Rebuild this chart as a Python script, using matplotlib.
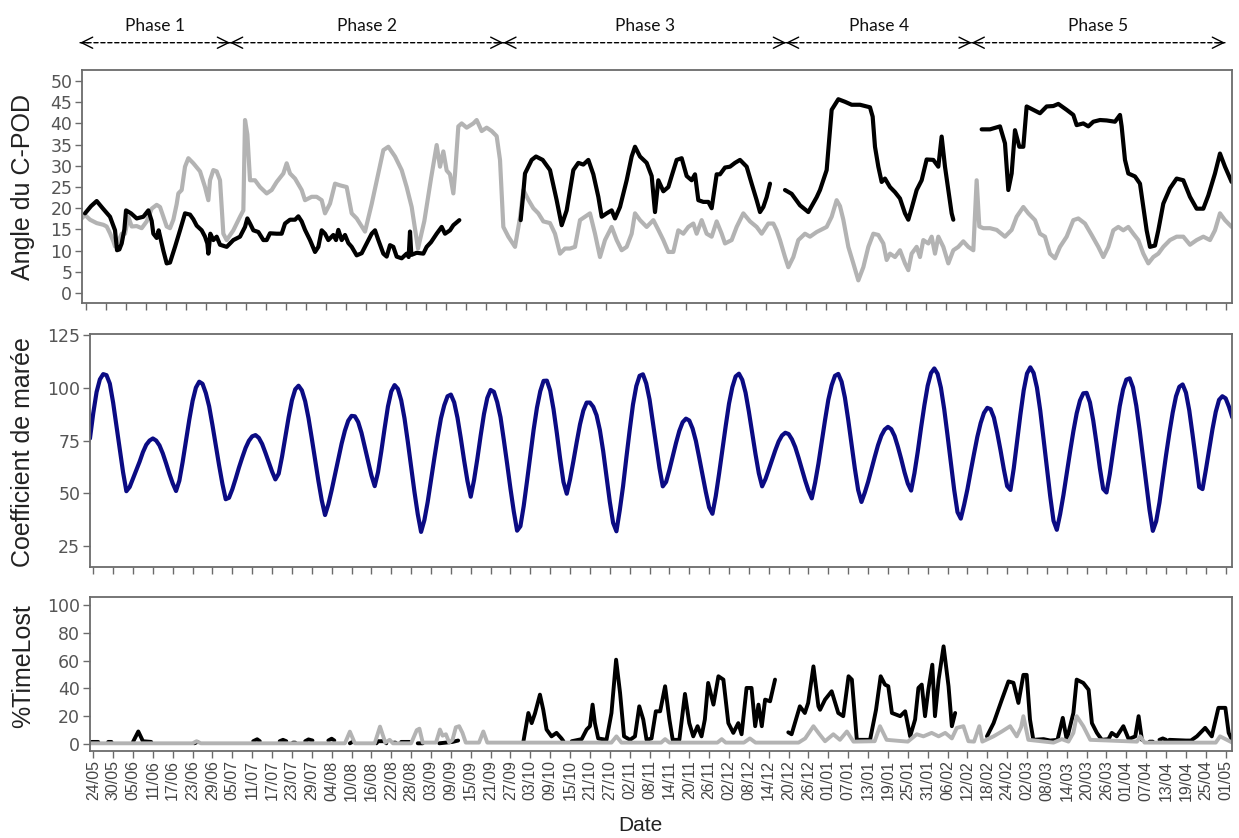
import numpy as np
import matplotlib
matplotlib.use('Agg')
import matplotlib.pyplot as plt
import matplotlib.dates as mdates

nan = np.nan
START = mdates.date2num(np.datetime64('2016-05-24'))

# ---- panel 1 : angle du C-POD (days counted from 24/05) ----
ang_black_days = [-0.3, 1.5, 3.2, 5.0, 7.2, 8.7, 9.3, 10.0, 10.7, 11.5, 12.0, 13.5, 15.2, 17.2, 18.7, 19.7,
                  20.2, 21.2, 21.8, 23.2, 24.2, 25.2, 26.7, 28.2, 29.7, 31.2, 32.2, 33.2, 34.7, 35.7, 36.4,
                  36.7, 37.3, 38.2, 39.2, 40.2, 42.2, 44.2, 46.2, 47.7, 48.4, 49.2, 50.2, 51.7, 53.2, 54.2,
                  55.2, 57.2, 58.7, 59.7, 61.2, 62.7, 63.7, 64.7, 65.7, 67.2, 68.7, 69.7, 70.7, 71.7, 72.7,
                  74.2, 75.0, 75.7, 76.7, 77.7, 78.7, 79.7, 81.2, 82.7, 84.2, 85.7, 86.7, 87.7, 89.2, 90.2,
                  91.2, 92.2, 93.2, 94.7, 96.2, 96.8, 97.2, 97.6, 99.2, 101.2, 102.2, 103.5, 105.2, 106.7,
                  107.7, 109.2, 110.2, 112.0, 121.0,
                  130.4, 131.0, 131.7, 133.7, 135.0, 137.0, 139.2, 141.2, 142.7, 144.2, 146.2, 147.7, 149.2,
                  150.7, 152.2, 153.7, 154.7, 156.2, 157.7, 158.7, 160.2, 162.2, 163.7, 164.7, 166.2, 168.2,
                  169.7, 170.7, 171.7, 173.2, 174.7, 175.7, 177.2, 178.7, 180.2, 181.7, 182.7, 183.7, 185.2,
                  186.7, 187.7, 189.2, 190.2, 191.7, 193.2, 194.7, 196.2, 198.2, 199.7, 201.2, 202.2, 203.2,
                  204.2, 205.2, 207.0,
                  209.7, 211.7, 214.2, 216.7, 219.2, 220.2, 222.2, 223.7, 225.7, 227.7, 229.7, 232.2, 235.2,
                  236.0, 236.7, 237.7, 238.7, 239.7, 241.2, 242.7, 244.2, 245.7, 246.7, 247.7, 249.2, 250.7,
                  252.2, 254.2, 255.7, 256.7, 257.7, 258.7, 259.7, 260.2, 264.0,
                  268.7, 271.2, 274.2, 275.7, 276.7, 277.7, 278.7, 280.0, 281.2, 282.2, 284.2, 286.2, 288.2,
                  290.2, 291.7, 294.2, 296.2, 297.2, 299.2, 300.7, 302.2, 304.2, 306.2, 308.7, 310.2, 310.7,
                  311.7, 312.7, 314.7, 316.2, 317.2, 318.2, 319.2, 320.7, 321.7, 323.2, 325.2, 327.2, 329.2,
                  331.2, 333.2, 335.2, 336.7, 338.7, 340.2, 341.7, 343.7]
ang_black_vals = [18.8, 20.5, 21.7, 20.0, 18.0, 14.8, 10.1, 10.3, 11.7, 15.0, 19.5, 18.8, 17.6, 18.0, 19.5, 17.0,
                  14.0, 13.0, 14.8, 10.0, 7.0, 7.2, 10.9, 14.8, 18.8, 18.5, 17.4, 15.9, 14.8, 13.3, 11.7,
                  9.3, 14.0, 12.5, 13.3, 11.4, 10.9, 12.5, 13.3, 15.6, 17.6, 16.4, 14.8, 14.4, 12.5, 12.5,
                  14.1, 14.0, 14.0, 16.4, 17.3, 17.3, 18.1, 16.9, 14.9, 12.5, 9.7, 10.9, 14.8, 14.0, 12.5,
                  13.7, 12.5, 14.9, 12.5, 13.7, 11.8, 10.9, 8.9, 9.4, 11.7, 14.0, 14.8, 12.5, 9.3, 8.6,
                  11.3, 10.9, 8.6, 8.2, 9.3, 8.5, 14.5, 9.0, 9.5, 9.3, 10.9, 12.0, 14.0, 15.6,
                  14.0, 14.8, 16.0, 17.2, nan,
                  17.2, 22.0, 28.2, 31.4, 32.2, 31.4, 29.0, 21.9, 16.0, 19.5, 29.0, 30.7, 30.3,
                  31.4, 28.0, 22.7, 18.0, 18.8, 19.5, 17.6, 20.3, 26.6, 32.2, 34.5, 32.2, 30.7,
                  27.6, 19.1, 26.6, 24.0, 25.0, 27.6, 31.4, 31.8, 27.6, 26.6, 28.0, 21.9, 21.5,
                  21.5, 20.0, 28.0, 28.0, 29.6, 29.8, 30.7, 31.4, 29.8, 25.8, 21.9, 19.1, 20.3,
                  22.6, 25.8, nan,
                  24.3, 23.4, 20.7, 19.1, 22.6, 24.3, 29.0, 43.2, 45.7, 45.1, 44.4, 44.4, 43.8,
                  41.6, 34.5, 29.8, 26.2, 27.0, 25.0, 23.8, 22.3, 18.8, 17.3, 20.0, 24.3, 26.6,
                  31.5, 31.4, 29.8, 36.9, 29.8, 24.3, 18.8, 17.3, nan,
                  38.6, 38.6, 39.3, 35.3, 24.3, 28.2, 38.4, 34.5, 34.5, 44.0, 43.2, 42.4, 44.0,
                  44.1, 44.6, 43.2, 42.0, 39.6, 40.0, 39.3, 40.4, 40.8, 40.7, 40.4, 42.0, 39.3,
                  31.4, 28.2, 27.5, 25.8, 20.3, 14.8, 10.9, 11.2, 14.8, 21.1, 24.7, 27.0, 26.6,
                  22.7, 19.9, 19.9, 23.0, 28.2, 32.9, 29.8, 26.2]

ang_grey_days = [-1.3, -0.3, 1.2, 3.2, 5.2, 6.2, 7.2, 8.2, 8.7, 9.7, 10.7, 11.7, 12.7, 13.7, 15.2, 16.7,
                 18.2, 19.7, 21.2, 22.2, 23.2, 24.2, 25.2, 26.2, 27.2, 27.7, 28.7, 29.7, 30.7, 32.2, 34.2,
                 35.7, 36.7, 37.2, 38.2, 39.2, 40.2, 41.2, 42.2, 44.2, 46.2, 47.2, 47.7, 48.4, 49.2, 50.7,
                 52.2, 54.2, 55.7, 57.2, 59.2, 60.2, 61.2, 62.7, 64.7, 65.7, 67.7, 69.2, 70.7, 71.7, 73.2,
                 74.7, 76.2, 78.2, 79.7, 81.2, 83.7, 85.7, 87.7, 89.2, 90.7, 92.7, 94.7, 96.2, 97.7, 99.6,
                 101.5, 103.5, 105.2, 106.2, 107.2, 108.2, 109.2, 110.2, 110.7, 111.7, 112.7, 114.2, 116.2,
                 117.2, 118.7, 120.2, 121.7, 123.2, 124.2, 125.2, 126.7, 128.7, 130.2, 131.2, 132.7, 134.2,
                 135.7, 137.2, 139.2, 140.7, 142.2, 143.7, 145.2, 146.7, 148.2, 149.7, 151.2, 152.7, 154.2,
                 155.7, 157.7, 159.2, 160.7, 162.2, 163.7, 164.7, 166.2, 168.2, 170.2, 171.7, 173.2, 174.7,
                 176.2, 177.7, 179.2, 180.7, 182.2, 183.2, 184.7, 186.2, 187.7, 189.2, 190.7, 191.7, 193.7,
                 195.2, 197.2, 199.2, 201.2, 202.7, 204.7, 206.2, 207.2, 208.2, 209.7, 210.7, 212.2, 213.7,
                 215.7, 217.2, 219.2, 222.2, 223.7, 225.2, 226.2, 227.2, 228.7, 230.2, 231.7, 233.2, 234.7,
                 236.2, 237.7, 239.2, 240.2, 241.2, 242.7, 244.2, 245.7, 246.7, 247.7, 249.2, 250.2, 251.2,
                 252.7, 253.7, 254.7, 255.7, 257.2, 258.7, 260.2, 261.7, 263.2, 264.7, 266.2, 267.2, 268.0,
                 269.2, 271.2, 273.2, 275.7, 277.7, 279.2, 281.2, 282.7, 284.7, 286.2, 287.7, 289.2, 290.7,
                 292.2, 294.2, 296.2, 297.7, 299.7, 301.7, 303.7, 305.2, 306.7, 308.2, 309.7, 311.2, 312.7,
                 314.2, 315.7, 317.2, 318.7, 320.2, 321.7, 323.2, 325.2, 327.2, 329.2, 331.2, 333.2, 335.2,
                 337.2, 338.7, 340.2, 341.7, 343.7]
ang_grey_vals = [17.6, 18.4, 17.3, 16.5, 16.1, 15.7, 14.1, 12.2, 11.0, 12.2, 14.0, 14.0, 18.0, 15.7, 15.8, 15.3,
                 16.9, 19.9, 20.8, 20.3, 18.0, 15.7, 15.3, 17.3, 21.0, 23.5, 24.3, 29.8, 31.8, 30.6, 28.7,
                 25.0, 21.9, 26.6, 29.0, 28.7, 26.6, 14.0, 12.5, 14.8, 18.0, 19.5, 40.8, 37.4, 26.6, 26.6,
                 25.0, 23.5, 24.3, 26.2, 28.2, 30.6, 28.2, 27.0, 24.3, 21.9, 22.7, 22.7, 21.9, 18.8, 21.1,
                 25.8, 25.4, 25.0, 18.8, 17.6, 14.5, 21.0, 28.2, 33.7, 34.5, 32.2, 29.0, 25.0, 20.3, 10.5,
                 17.0, 27.0, 34.9, 29.8, 33.4, 28.9, 28.0, 23.5, 28.0, 39.3, 40.0, 39.0, 40.0,
                 40.8, 38.2, 39.0, 38.2, 37.0, 31.4, 15.6, 13.3, 10.9, 17.8, 24.3, 22.0, 20.0,
                 18.8, 16.9, 16.5, 14.0, 9.3, 10.5, 10.5, 10.9, 17.2, 18.0, 18.8, 14.0, 8.5,
                 12.5, 15.6, 12.5, 10.1, 10.9, 14.0, 18.8, 17.2, 15.6, 17.2, 14.9, 12.5, 9.7,
                 9.7, 14.8, 14.0, 15.6, 16.4, 14.0, 17.2, 14.0, 13.3, 16.9, 14.0, 11.7, 12.5,
                 15.6, 18.8, 16.9, 15.6, 14.0, 16.4, 16.4, 14.8, 12.5, 8.5, 6.1, 8.5, 12.5,
                 14.0, 13.3, 14.4, 15.6, 18.0, 21.9, 20.5, 17.3, 10.9, 7.0, 3.0, 6.1, 10.9,
                 14.0, 13.7, 11.7, 7.8, 9.3, 8.5, 10.1, 7.0, 5.4, 9.3, 10.9, 8.5, 12.5,
                 11.7, 13.3, 9.3, 13.3, 10.9, 7.0, 10.1, 10.9, 12.2, 10.9, 10.1, 26.6, 15.7,
                 15.3, 15.3, 14.9, 13.3, 14.9, 18.0, 20.3, 18.8, 17.2, 14.0, 13.3, 9.3, 8.2,
                 10.9, 13.3, 17.2, 17.6, 16.4, 13.7, 10.9, 8.5, 10.9, 14.8, 15.6, 14.8, 15.6,
                 14.0, 12.5, 9.3, 7.0, 8.5, 9.3, 10.9, 12.5, 13.3, 13.3, 11.4, 12.5, 13.3,
                 12.5, 14.8, 18.8, 17.2, 15.6]

# ---- panel 2 : coefficient de maree, one value per day from day -1 ----
tide_vals = [76, 88, 98, 104, 106.5,                        # -1..3
             106, 102, 93, 82, 71, 60, 51,                  # 4..10
             53, 57, 61, 65, 69.5, 73, 75, 76,              # 11..18
             75, 72.7, 68.9, 64.2, 59.2, 54.7, 51.1,        # 19..25
             56, 64.9, 75, 84.9, 93.8, 100.1, 102.9,        # 26..32
             101.9, 97.5, 91.2, 82.3, 72.8, 63.3, 54.5, 47.2,  # 33..40
             47.9, 51.9, 56.9, 62.2, 67, 71.5, 74.9, 77,    # 41..48
             77.6, 76.3, 73.4, 69.2, 64.8, 60.3, 56.6,      # 49..55
             59.3, 67.3, 76.7, 86, 94.1, 99.3, 101,         # 56..62
             98.8, 93.6, 85.7, 76, 65.9, 55.8, 46.7, 39.7,  # 63..70
             44.8, 51.5, 58.8, 66.3, 73.5, 79.7, 84.4, 86.7,  # 71..78
             86.5, 83.8, 78.7, 72, 65.1, 58.5, 53.4,        # 79..85
             60, 70, 80.9, 91.2, 98.3, 101.3,               # 86..91
             99.5, 94.1, 85.5, 74.4, 62.6, 50.7, 40.1, 31.7,  # 92..99
             37.3, 45.9, 56.3, 66.6, 76.5, 85.5, 91.7, 96,  # 100..107
             96.8, 93.1, 85.8, 76.1, 65.6, 55.9, 48.4,      # 108..114
             56.3, 66.4, 77.4, 87.6, 95.2, 99,              # 115..120
             98.1, 93.2, 86, 75.2, 63.9, 52.2, 41.4, 32.3,  # 121..128
             34.4, 44, 55.8, 68.2, 80.2, 90.6, 98.4, 103.3,  # 129..136
             103.4, 98.7, 89.9, 78.6, 66.4, 55.4,           # 137..142
             49.8, 56.7, 65.2, 74.2, 82.7, 89.2, 93,        # 143..149
             93, 91, 87, 80, 70, 58, 46, 36, 32,            # 150..158
             41.9, 53.3, 66.9, 79.9, 92.1, 100.8, 105.7,    # 159..165
             106.4, 102.1, 94.5, 83.7, 72.8, 62, 53.3,      # 166..172
             55.4, 61.1, 67.6, 73.9, 79.6, 83.7, 85.4,      # 173..179
             84.5, 80.7, 74.8, 66.9, 58.7, 50.6, 43.3,      # 180..186
             40.3, 48.7, 59.3, 70.5, 81.9, 92.5, 100.3, 105.4,  # 187..194
             106.7, 103.8, 97.7, 88.7, 78.7, 68.6, 59.5,    # 195..201
             53.3, 56.7, 61.2, 65.9, 70.5, 74.6, 77.4, 78.7,  # 202..209
             78.1, 75.6, 71.9, 66.9, 61.5, 56.1, 51.3, 47.6,  # 210..217
             55, 64, 74.4, 84.7, 94.4, 101.2, 105.7,        # 218..224
             106.6, 102.9, 95.4, 84.9, 73.5, 61.8, 51.6,    # 225..231
             45.9, 50.3, 55.4, 61.4, 67.2, 72.8, 77.3, 80.2, 81.5,  # 232..240
             80.4, 77.2, 72.1, 66.3, 60, 54.6,              # 241..246
             51.3, 59.5, 69.7, 81.1, 91.7, 101, 107, 109.2,  # 247..254
             106.6, 100, 89.8, 77.4, 64.5, 51.7, 41.1,      # 255..261
             38, 44.5, 51.9, 60.5, 68.8, 76.8, 83.3, 88.1, 90.5,  # 262..270
             89.9, 85.9, 78.7, 70.4, 61.4, 53.4,            # 271..276
             51.6, 61.9, 74.6, 87.3, 98.8, 106.8, 109.7,    # 277..283
             107, 100.1, 89.2, 75.7, 62.3, 48.7, 37,        # 284..290
             32.7, 40.1, 49.2, 59.5, 69.7, 79.4, 87.9, 94, 97.4,  # 291..299
             97.6, 93.1, 84.5, 73.6, 62, 52.1,              # 300..305
             50.4, 59.1, 70, 80.8, 91.3, 99.2, 103.9,       # 306..312
             104.5, 100.2, 91.5, 80.1, 67.4, 54.3, 42.1, 32.2,  # 313..320
             36.7, 45.6, 56.9, 68.2, 78.7, 88.3, 96, 100.5,  # 321..328
             101.6, 97.7, 89.3, 77.8, 65.8, 53,             # 329..334
             52, 61, 70.7, 80.3, 88.6, 94.3,                # 335..340
             96, 95, 91, 86]                                # 341..344
tide_days = np.arange(len(tide_vals)) - 1

# ---- panel 3 : %TimeLost ----
tl_black_days = [-0.5, 1.5, 2.5, 4.5, 5.5, 6.5, 12.0, 13.6, 15.0, 17.5, 18.5, 30.5, 31.5, 32.5,
                 48.3, 49.5, 50.3, 51.0, 56.3, 57.3, 58.3, 59.0, 60.3, 61.0, 62.0, 64.0, 65.0, 66.2, 67.0,
                 71.0, 72.0, 72.8, 73.5, 77.5, 78.3, 79.0, 85.5, 86.0, 88.0, 88.5, 89.5, 90.8, 91.3, 92.0,
                 93.0, 95.5, 96.5, 98.0, 99.5, 100.5, 104.5, 106.5, 108.5, 110.2, 111.0,
                 129.9, 131.4, 132.4, 133.4, 134.9, 135.9, 136.9, 138.4, 139.9, 141.4, 142.0, 143.0,
                 144.5, 147.5, 149.0, 150.0, 150.8, 151.5, 152.5, 155.0, 156.5, 157.9, 159.1, 160.3, 162.1,
                 163.6, 164.9, 166.1, 167.1, 168.6, 169.9, 171.2, 172.7, 174.0, 175.0, 177.0, 178.7, 180.0,
                 181.2, 182.5, 183.7, 184.7, 185.7, 187.3, 188.8, 190.3, 191.8, 193.3, 194.8, 195.8, 197.3,
                 198.8, 199.9, 200.9, 201.9, 202.9, 204.4, 205.9, 207.0,
                 209.9, 210.9, 213.4, 214.9, 215.9, 217.5, 219.0, 219.5, 221.0, 223.0, 225.0, 226.5, 228.1,
                 229.1, 230.6, 234.6, 236.4, 237.8, 239.1, 240.1, 241.2, 243.7, 245.2, 246.7, 248.2, 249.2,
                 250.2, 251.2, 252.2, 253.4, 254.2, 255.3, 256.8, 258.3, 259.3, 260.3, 262.0,
                 269.9, 271.9, 274.4, 276.4, 277.9, 279.4, 280.9, 281.9, 282.9, 283.9, 287.0, 289.0, 291.2,
                 292.8, 294.0, 296.0, 297.0, 299.0, 300.6, 301.6, 303.1, 304.6, 306.6, 307.6, 309.1, 311.1,
                 312.7, 314.7, 315.7, 316.7, 317.5, 319.0, 320.0, 321.0, 322.0, 323.0, 324.0, 324.5,
                 325.0, 330.0, 331.5, 333.3, 335.8, 337.8, 339.8, 341.9, 342.9, 343.9]
tl_black_vals = [1.5, 1.5, nan, 1.5, 1.5, nan, 1.5, 9.0, 2.0, 1.5, nan, 0.5, 1.5, nan,
                 2.0, 3.4, 2.0, nan, 2.0, 3.0, 2.0, nan, 1.0, 1.0, nan, 2.0, 3.3, 2.5, nan,
                 2.5, 3.8, 2.5, nan, 0.5, 1.5, nan, 0.5, 2.0, 2.0, 0.5, nan, 1.0, 1.0, nan,
                 1.5, 1.5, nan, 0.5, 0.5, nan, 0.5, 1.0, 1.5, 2.5, nan,
                 1.7, 22.3, 15.0, 22.0, 35.5, 24.6, 10.4, 5.5, 8.0, 4.0, 2.0, nan,
                 2.0, 3.5, 10.4, 12.8, 28.3, 15.0, 4.0, 3.0, 22.3, 60.6, 36.7, 5.5, 3.0,
                 5.5, 27.1, 17.6, 3.0, 4.0, 23.5, 23.5, 41.5, 17.6, 3.0, 3.0, 36.0, 15.0,
                 5.5, 12.8, 5.5, 17.6, 43.9, 28.3, 48.7, 46.3, 15.0, 8.0, 15.0, 7.0, 40.3,
                 40.3, 12.8, 28.3, 12.8, 31.9, 30.7, 46.3, nan,
                 8.4, 7.0, 27.1, 22.3, 29.5, 55.8, 27.1, 24.6, 31.9, 37.9, 22.3, 20.0, 48.7,
                 46.3, 3.0, 3.0, 24.6, 48.7, 42.7, 41.5, 22.3, 20.0, 23.5, 5.5, 17.6, 40.3,
                 42.7, 20.0, 39.0, 57.0, 20.0, 46.3, 70.2, 41.5, 12.8, 22.3, nan,
                 5.5, 15.0, 31.9, 45.0, 44.0, 29.5, 49.7, 49.7, 17.6, 3.0, 3.5, 2.5, 3.0,
                 18.8, 3.0, 22.3, 46.3, 43.9, 39.0, 15.0, 8.0, 3.0, 3.5, 8.0, 5.5, 12.8,
                 3.5, 5.5, 20.0, 3.0, nan, 1.7, 1.7, nan, 3.0, 4.0, 3.0, nan,
                 3.0, 2.5, 2.5, 5.5, 11.6, 5.5, 26.0, 26.0, 8.0, 3.0]

tl_grey_days = [-1.0, 30.0, 31.2, 32.5, 76.0, 77.5, 79.0, 85.0, 86.6, 88.2, 89.5, 90.5, 96.0, 97.7, 98.5,
                99.5, 103.5, 104.7, 105.5, 106.5, 107.5, 108.5, 109.5, 110.5, 111.5, 112.5, 116.5, 117.8,
                119.0, 156.5, 158.0, 159.5, 171.5, 172.7, 174.0, 188.5, 189.8, 191.0, 196.5, 198.3, 200.0,
                213.0, 215.0, 217.5, 219.0, 221.0, 223.5, 225.5, 227.6, 229.6, 236.0, 237.6, 239.6, 246.0,
                248.7, 250.7, 253.2, 255.3, 257.3, 259.3, 260.8, 262.8, 264.3, 266.0, 267.6, 268.5, 271.9,
                274.4, 276.9, 278.9, 280.2, 280.9, 282.4, 290.0, 292.5, 294.5, 296.0, 297.0, 299.0, 301.1,
                315.2, 316.2, 317.5, 339.0, 340.3, 344.0]
tl_grey_vals = [0.5, 0.5, 2.0, 0.5, 0.5, 8.9, 0.5, 0.5, 12.5, 1.0, 3.0, 0.5, 0.5, 10.0, 11.0,
                1.0, 1.0, 10.4, 6.0, 7.0, 1.0, 3.0, 12.0, 12.8, 8.0, 1.0, 1.0, 9.0,
                1.0, 1.0, 5.5, 1.0, 1.0, 3.5, 1.0, 1.0, 3.5, 1.0, 1.0, 4.0, 1.0,
                1.0, 4.0, 12.8, 8.0, 2.0, 7.0, 3.0, 9.0, 1.7, 2.0, 12.8, 3.0, 1.7,
                7.0, 5.5, 8.0, 5.5, 8.0, 4.0, 11.6, 12.8, 2.0, 1.7, 12.8, 1.7, 5.5,
                9.0, 12.8, 5.5, 12.0, 20.0, 3.0, 1.0, 3.5, 1.7, 8.0, 20.0, 12.8, 3.0,
                1.7, 5.5, 1.0, 1.0, 5.5, 1.0]

phase_names = ['Phase 1', 'Phase 2', 'Phase 3', 'Phase 4', 'Phase 5']
phase_bounds = [-1.8, 43.2, 125.2, 210.0, 265.7, 341.7]

BLACK = '#000000'
GREY = '#b3b3b3'
NAVY = '#0b0b83'
FRAME = '#6b6b6b'


def x(days):
    return START + np.asarray(days, dtype=float)


fig = plt.figure(figsize=(12.39, 8.38), dpi=100)
ax1 = fig.add_axes([0.0662, 0.6381, 0.9284, 0.2784])
ax2 = fig.add_axes([0.0726, 0.3237, 0.9220, 0.2777])
ax3 = fig.add_axes([0.0726, 0.1042, 0.9220, 0.1831])

line_kw = dict(solid_capstyle='round', solid_joinstyle='round')
ax1.plot(x(ang_grey_days), ang_grey_vals, color=GREY, lw=3.0, **line_kw)
ax1.plot(x(ang_black_days), ang_black_vals, color=BLACK, lw=3.0, **line_kw)
ax2.plot(x(tide_days), tide_vals, color=NAVY, lw=3.0, **line_kw)
ax3.plot(x(tl_black_days), tl_black_vals, color=BLACK, lw=2.8, **line_kw)
ax3.plot(x(tl_grey_days), tl_grey_vals, color=GREY, lw=2.8, **line_kw)

ax1.set_xlim(START - 1.2, START + 343.9)
ax2.set_xlim(START - 1.0, START + 344.0)
ax3.set_xlim(START - 1.0, START + 344.0)
ax1.set_ylim(-2.4, 52.6)
ax2.set_ylim(15.2, 125.5)
ax3.set_ylim(-4.8, 105.5)
ax1.set_yticks(np.arange(0, 51, 5))
ax2.set_yticks([25, 50, 75, 100, 125])
ax3.set_yticks(np.arange(0, 101, 20))

xticks = x(np.arange(0, 343, 6))
for ax in (ax1, ax2, ax3):
    ax.set_xticks(xticks)
    ax.xaxis.set_major_formatter(mdates.DateFormatter('%d/%m'))
    for s in ax.spines.values():
        s.set_color(FRAME)
        s.set_linewidth(1.3)
    ax.tick_params(axis='both', direction='out', length=5, width=1, color=FRAME,
                   labelcolor='#555555', pad=2)
    ax.tick_params(axis='y', labelsize=12.5, labelfontfamily='DejaVu Sans')
ax1.tick_params(axis='x', labelbottom=False)
ax2.tick_params(axis='x', labelbottom=False)
ax3.tick_params(axis='x', labelsize=11.5, labelrotation=90, labelcolor='#444444',
                labelfontfamily='Liberation Sans')

lab_kw = dict(rotation=90, ha='center', va='center', fontsize=18, color='#222222', family='Liberation Sans')
fig.text(0.0182, 0.7763, 'Angle du C-POD', **lab_kw)
fig.text(0.0186, 0.460, 'Coefficient de marée', **lab_kw)
fig.text(0.0186, 0.2047, '%TimeLost', **lab_kw)
fig.text(0.5165, 0.0155, 'Date', ha='center', va='center', fontsize=15, color='#222222',
         family='Liberation Sans')

# phase arrows above the first panel
y_arrow = 1 - 42.7 / 838
y_text = 1 - 26 / 838
coords = ('data', 'figure fraction')
for i, name in enumerate(phase_names):
    a, b = x(phase_bounds[i]), x(phase_bounds[i + 1])
    ax1.annotate('', xy=(b, y_arrow), xytext=(a, y_arrow), xycoords=coords, textcoords=coords,
                 annotation_clip=False,
                 arrowprops=dict(arrowstyle='-', linestyle=(0, (3, 2)), lw=1, color='k',
                                 shrinkA=0, shrinkB=0))
    for tip, tail in ((a, a + 2.5), (b, b - 2.5)):
        ax1.annotate('', xy=(tip, y_arrow), xytext=(tail, y_arrow), xycoords=coords, textcoords=coords,
                     annotation_clip=False,
                     arrowprops=dict(arrowstyle='->,head_length=0.8,head_width=0.4', lw=1, color='k',
                                     shrinkA=0, shrinkB=0))
    ax1.annotate(name, xy=((a + b) / 2, y_text), xycoords=coords, annotation_clip=False,
                 ha='center', va='center', fontsize=12.5, family='Lato', color='#111111')

fig.savefig('out.png', dpi=100)
